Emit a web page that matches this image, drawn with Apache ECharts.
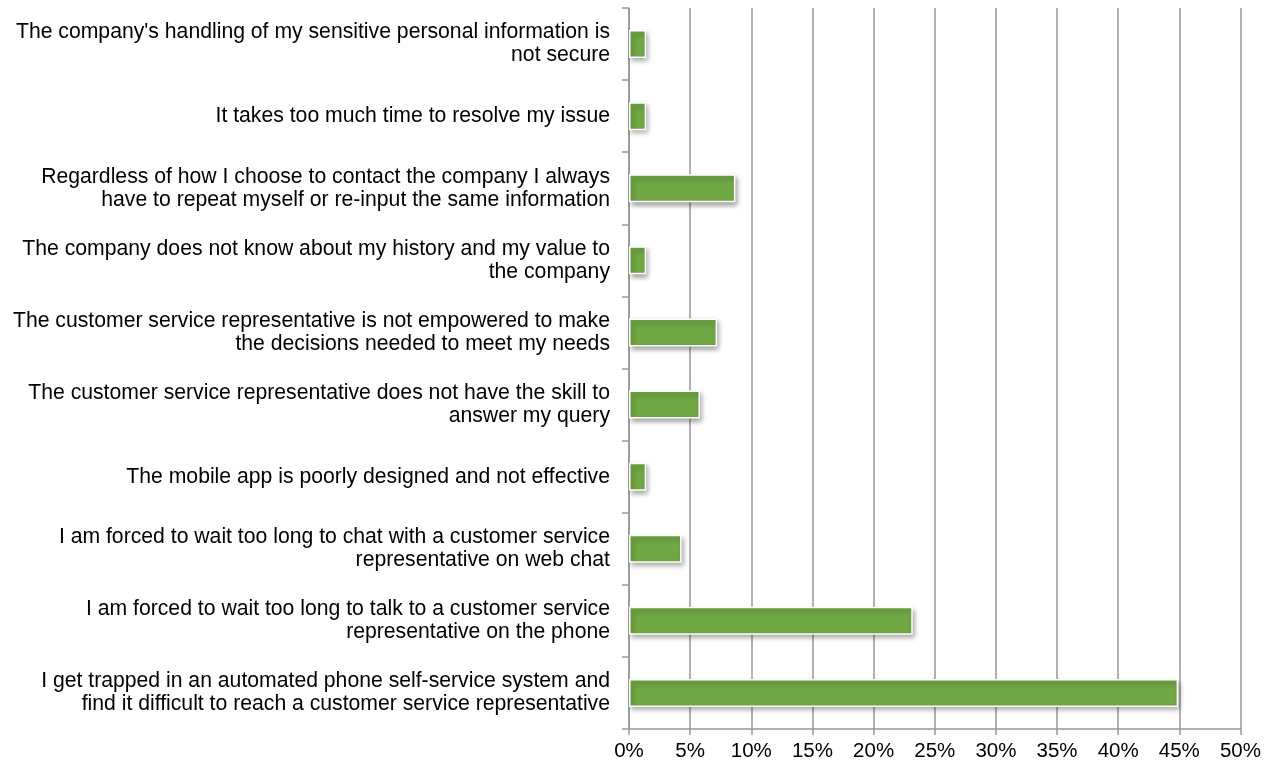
<!DOCTYPE html>
<html>
<head>
<meta charset="utf-8">
<script src="https://cdn.jsdelivr.net/npm/echarts@6/dist/echarts.min.js"></script>
<style>
html,body{margin:0;padding:0;background:#fff;}
#chart{width:1264px;height:765px;}
</style>
</head>
<body>
<div id="chart"></div>
<script>
// Survey responses: reasons for frustration with customer service
const categories = [
  "The company's handling of my sensitive personal information is\nnot secure",
  "It takes too much time to resolve my issue",
  "Regardless of how I choose to contact the company I always\nhave to repeat myself or re-input the same information",
  "The company does not know about my history and my value to\nthe company",
  "The customer service representative is not empowered to make\nthe decisions needed to meet my needs",
  "The customer service representative does not have the skill to\nanswer my query",
  "The mobile app is poorly designed and not effective",
  "I am forced to wait too long to chat with a customer service\nrepresentative on web chat",
  "I am forced to wait too long to talk to a customer service\nrepresentative on the phone",
  "I get trapped in an automated phone self-service system and\nfind it difficult to reach a customer service representative"
];
const shares = [1.4, 1.4, 8.7, 1.4, 7.2, 5.8, 1.4, 4.3, 23.2, 44.9];
const xTicks = { min: 0, max: 50, step: 5 };

const chart = echarts.init(document.getElementById('chart'));
chart.setOption({
  animation: false,
  textStyle: { fontFamily: 'Liberation Sans, Arial, sans-serif' },
  grid: { left: 629, right: 21, top: 8, bottom: 36, containLabel: false },
  xAxis: {
    type: 'value',
    min: xTicks.min, max: xTicks.max, interval: xTicks.step,
    axisLine: { show: true, lineStyle: { color: '#999999', width: 1.5 } },
    axisTick: { show: true, length: 6, lineStyle: { color: '#999999', width: 1.5 } },
    splitLine: { show: true, lineStyle: { color: '#999999', width: 1.5 } },
    axisLabel: { formatter: '{value}%', color: '#000', fontSize: 20.5, margin: 12 }
  },
  yAxis: {
    type: 'category',
    inverse: true,
    data: categories,
    axisLine: { show: true, lineStyle: { color: '#999999', width: 1.5 } },
    axisTick: { show: true, length: 7, lineStyle: { color: '#999999', width: 1.5 } },
    axisLabel: { color: '#000', fontSize: 21.2, lineHeight: 23, margin: 19, align: 'right' }
  },
  series: [{
    type: 'bar',
    data: shares,
    barWidth: 28,
    itemStyle: {
      color: '#70a844',
      borderColor: '#ffffff',
      borderWidth: 1.5,
      shadowColor: 'rgba(0,0,0,0.35)',
      shadowBlur: 5,
      shadowOffsetX: 2,
      shadowOffsetY: 3
    }
  }]
});
</script>
</body>
</html>
